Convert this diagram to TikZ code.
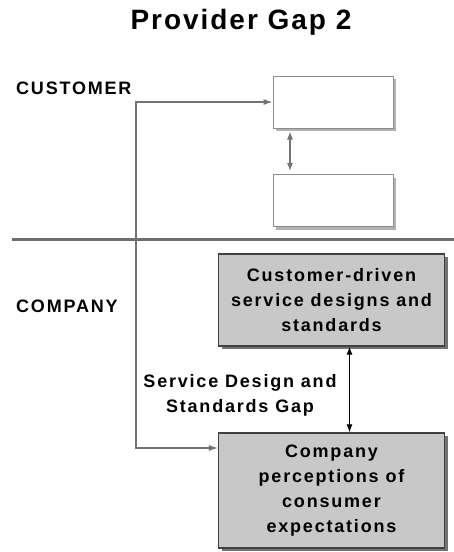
\documentclass[tikz,border=0pt]{standalone}
\usepackage{fontspec}
\setmainfont{Liberation Sans}[LetterSpace=10]
\newfontfamily\titlefont{Liberation Sans}[LetterSpace=7]
\usetikzlibrary{shadows,arrows.meta}
\definecolor{boxgray}{HTML}{C8C8C8}
\definecolor{rulegray}{HTML}{6E6E6E}
\tikzset{blank/.style={draw=black!45,fill=white,line width=1pt,minimum width=120pt,minimum height=52pt,
    drop shadow={shadow xshift=3pt,shadow yshift=-3pt,fill=black!30,opacity=1}},
  gapbox/.style={draw=black!75,fill=boxgray,line width=1.2pt,minimum width=226pt,align=center,
    font=\bfseries\fontsize{18}{25}\selectfont,
    drop shadow={shadow xshift=3pt,shadow yshift=-3pt,fill=black!55,opacity=1}},
  lbl/.style={font=\bfseries\fontsize{18}{25}\selectfont,align=center}}
\newcommand{\blankbox}[3]{\node[blank] (#1) at (#2,#3) {};}
\newcommand{\gapbox}[5]{\node[gapbox,minimum height=#4pt] (#1) at (#2,#3) {#5};}
\newcommand{\gaplink}[2]{\draw[line width=1pt,<->,>={Latex[length=8pt,width=6pt]}] ([xshift=18pt]#1.south) -- ([xshift=18pt]#2.north);}

\begin{document}
\begin{tikzpicture}[x=1pt,y=-1pt]
    \useasboundingbox (0,0) rectangle (454,552);
    \node[font=\titlefont\bfseries\fontsize{28}{30}\selectfont] (title) at (241,22) {Provider Gap 2};
    \node[lbl,anchor=base west,inner sep=0] (cust) at (16,94) {CUSTOMER};
    \node[lbl,anchor=base west,inner sep=0] (comp) at (16,312) {COMPANY};
    \blankbox{top}{333}{102}    \blankbox{below}{333}{200.5}
    \gapbox{design}{331.5}{300}{92}{Customer-driven\\service designs and\\standards}
    \gapbox{percep}{331.5}{490.5}{115}{Company\\perceptions of\\consumer\\expectations}
    \draw[rulegray,line width=3pt] (12,239) -- (454,239);
    \coordinate (bend) at (136,448);
    \draw[black!55,line width=1.2pt,<->,>={Latex[length=9pt,width=6pt]}] (top.west) -| (bend) -- (bend -| percep.west);
    \draw[black!55,line width=1.2pt,<->,>={Latex[length=8pt,width=6pt]},shorten <=3pt,shorten >=3pt]
      ([xshift=-43pt]top.south) -- ([xshift=-43pt]below.north);
    \gaplink{design}{percep}
    \node[lbl] (gap) at (240,395) {Service Design and\\Standards Gap};
\end{tikzpicture}
\end{document}
